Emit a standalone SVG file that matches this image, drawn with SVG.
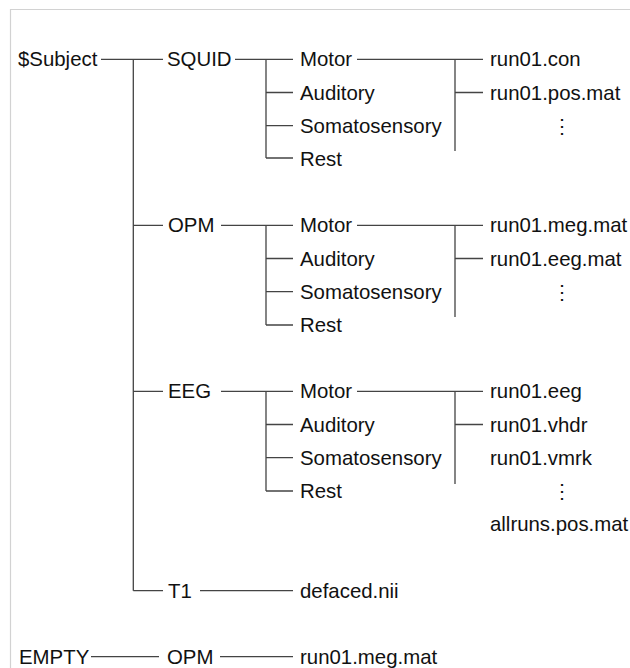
<svg xmlns="http://www.w3.org/2000/svg" width="630" height="668" viewBox="0 0 630 668">
  <style>
    text { font-family: "Liberation Sans", Arial, Helvetica, sans-serif; font-size: 20.4px; fill: #111; }
    .ln { stroke: #444; stroke-width: 1.3; fill: none; }
    .frame { stroke: #d2d2d2; stroke-width: 1.2; fill: none; }
    .dots { text-anchor: middle; }
  </style>
  <rect width="630" height="668" fill="#fff"/>
  <path class="frame" d="M10.5 668 V9.5 H630"/>

  <!-- connectors -->
  <g id="connectors" class="ln">
    <!-- $Subject trunk -->
    <path d="M101 59.3 H163 M133.3 59.3 V590.7 M133.3 225.3 H163 M133.3 391.3 H163 M133.3 590.7 H163"/>
    <!-- SQUID tasks -->
    <path d="M235 59.3 H293 M266 59.3 V158 M266 92.5 H293 M266 125.7 H293 M266 158 H293"/>
    <!-- SQUID files -->
    <path d="M357 59.3 H483 M455 59.3 V151 M455 92.5 H483"/>
    <!-- OPM tasks -->
    <path d="M221 225.3 H293 M266 225.3 V325 M266 258.5 H293 M266 291.7 H293 M266 325 H293"/>
    <!-- OPM files -->
    <path d="M357 225.3 H483 M455 225.3 V317 M455 258.5 H483"/>
    <!-- EEG tasks -->
    <path d="M221 391.3 H293 M266 391.3 V491 M266 424.5 H293 M266 457.7 H293 M266 491 H293"/>
    <!-- EEG files -->
    <path d="M357 391.3 H483 M455 391.3 V484 M455 424.5 H483"/>
    <!-- T1 -->
    <path d="M200 590.7 H293"/>
    <!-- EMPTY -->
    <path d="M91 656.7 H159 M220 656.7 H293"/>
  </g>

  <g id="subject"><text x="18" y="66.3">$Subject</text></g>

  <g id="squid"><text x="167" y="66.3">SQUID</text></g>
  <g id="squid-tasks">
    <text x="300" y="66.3">Motor</text>
    <text x="300" y="99.5">Auditory</text>
    <text x="300" y="132.7">Somatosensory</text>
    <text x="300" y="165.5">Rest</text>
  </g>
  <g id="squid-files">
    <text x="490" y="66.3">run01.con</text>
    <text x="490" y="99.5">run01.pos.mat</text>
    <text class="dots" x="562" y="132.7">⋮</text>
  </g>

  <g id="opm"><text x="168" y="232.3">OPM</text></g>
  <g id="opm-tasks">
    <text x="300" y="232.3">Motor</text>
    <text x="300" y="265.5">Auditory</text>
    <text x="300" y="298.7">Somatosensory</text>
    <text x="300" y="332">Rest</text>
  </g>
  <g id="opm-files">
    <text x="490" y="232.3">run01.meg.mat</text>
    <text x="490" y="265.5">run01.eeg.mat</text>
    <text class="dots" x="562" y="298.7">⋮</text>
  </g>

  <g id="eeg"><text x="168" y="398.3">EEG</text></g>
  <g id="eeg-tasks">
    <text x="300" y="398.3">Motor</text>
    <text x="300" y="431.5">Auditory</text>
    <text x="300" y="464.7">Somatosensory</text>
    <text x="300" y="498">Rest</text>
  </g>
  <g id="eeg-files">
    <text x="490" y="398.3">run01.eeg</text>
    <text x="490" y="431.5">run01.vhdr</text>
    <text x="490" y="464.7">run01.vmrk</text>
    <text class="dots" x="562" y="498">⋮</text>
    <text x="490" y="531">allruns.pos.mat</text>
  </g>

  <g id="t1"><text x="168" y="597.7">T1</text></g>
  <g id="t1-file"><text x="300" y="597.7">defaced.nii</text></g>

  <g id="empty"><text x="19" y="663.7">EMPTY</text></g>
  <g id="empty-opm"><text x="167" y="663.7">OPM</text></g>
  <g id="empty-file"><text x="300" y="663.7">run01.meg.mat</text></g>
</svg>
